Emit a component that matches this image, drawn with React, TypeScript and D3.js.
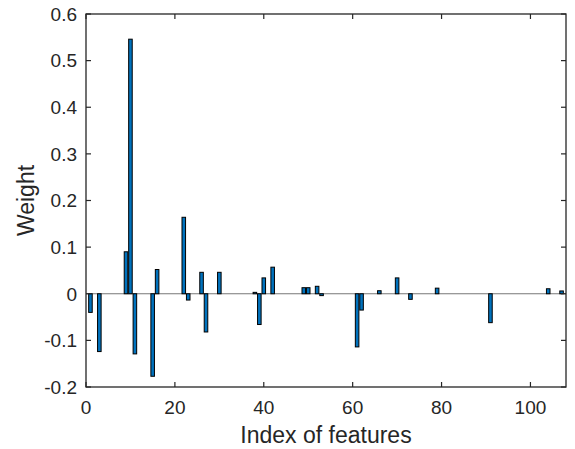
import React from "react";
import * as d3 from "d3";

const featureIndex = [1, 3, 9, 10, 11, 15, 16, 22, 23, 26, 27, 30, 38, 39, 40, 42, 49, 50, 52, 53, 61, 62, 66, 70, 73, 79, 91, 104, 107];
const weights = [-0.040, -0.124, 0.090, 0.546, -0.129, -0.177, 0.052, 0.164, -0.0135, 0.046, -0.082, 0.046, 0.003, -0.066, 0.034, 0.057, 0.013, 0.013, 0.016, -0.004, -0.114, -0.035, 0.0065, 0.034, -0.012, 0.012, -0.062, 0.0107, 0.006];
const xTicks = [0, 20, 40, 60, 80, 100];
const yTicks = [-0.2, -0.1, 0, 0.1, 0.2, 0.3, 0.4, 0.5, 0.6];
const yTickLabels = ["-0.2", "-0.1", "0", "0.1", "0.2", "0.3", "0.4", "0.5", "0.6"];
const xLabel = "Index of features";
const yLabel = "Weight";

const W = 575, H = 449;
const L = 86, R = 566, T = 14, B = 387;
const FONT = "'Liberation Sans', Arial, Helvetica, sans-serif";

export default function App() {
  const x = d3.scaleLinear().domain([0, 108]).range([L, R]);
  const y = d3.scaleLinear().domain([-0.2, 0.6]).range([B, T]);
  const bw = x(0.8) - x(0);
  const axisColor = "#262626";
  const tk = 5;
  return (
    <svg width={W} height={H} style={{ position: "absolute", left: 0, top: 0, background: "#fff" }} fontFamily={FONT}>
      <rect x={0} y={0} width={W} height={H} fill="#fff" />
      <line x1={L} x2={R} y1={y(0)} y2={y(0)} stroke="#777" strokeWidth={1.2} />
      {featureIndex.map((fi, i) => {
        const v = weights[i];
        const y0 = y(0), y1 = y(v);
        return (
          <rect key={fi} x={x(fi) - bw / 2} width={bw} y={Math.min(y0, y1)} height={Math.abs(y1 - y0)}
            fill="#0072BD" stroke="#000" strokeWidth={1} />
        );
      })}
      <rect x={L} y={T} width={R - L} height={B - T} fill="none" stroke={axisColor} strokeWidth={1.3} />
      {xTicks.map((t) => (
        <g key={"x" + t}>
          <line x1={x(t)} x2={x(t)} y1={B} y2={B - tk} stroke={axisColor} strokeWidth={1.2} />
          <line x1={x(t)} x2={x(t)} y1={T} y2={T + tk} stroke={axisColor} strokeWidth={1.2} />
          <text x={x(t)} y={414} textAnchor="middle" fontSize={19} fill={axisColor}>{String(t)}</text>
        </g>
      ))}
      {yTicks.map((t, i) => (
        <g key={"y" + t}>
          <line x1={L} x2={L + tk} y1={y(t)} y2={y(t)} stroke={axisColor} strokeWidth={1.2} />
          <line x1={R} x2={R - tk} y1={y(t)} y2={y(t)} stroke={axisColor} strokeWidth={1.2} />
          <text x={77} y={y(t)} dy="0.36em" textAnchor="end" fontSize={19} fill={axisColor}>{yTickLabels[i]}</text>
        </g>
      ))}
      <text x={(L + R) / 2} y={443} textAnchor="middle" fontSize={23} fill={axisColor}>{xLabel}</text>
      <text transform={`translate(34,${(T + B) / 2}) rotate(-90)`} textAnchor="middle" fontSize={23} fill={axisColor}>{yLabel}</text>
    </svg>
  );
}
